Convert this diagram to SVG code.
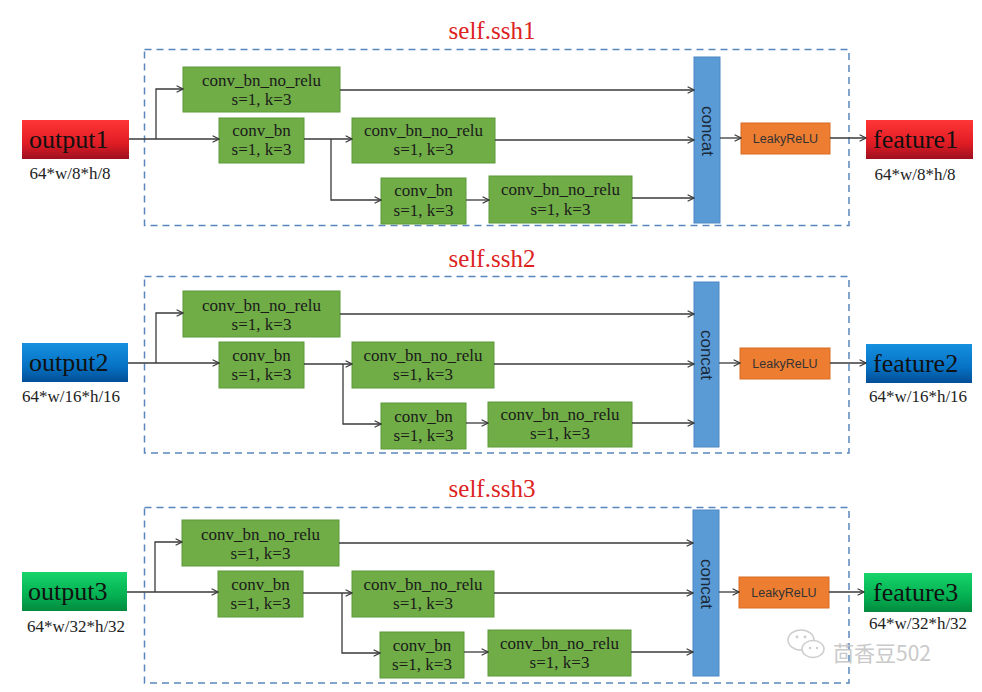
<svg xmlns="http://www.w3.org/2000/svg" width="982" height="692" viewBox="0 0 982 692">
<defs>
<style>
.dash{fill:none;stroke:#5a86bd;stroke-width:1.5;stroke-dasharray:7 5}
.g{fill:#70ad47;stroke:#5d9a3a;stroke-width:1}
.t{font-family:"Liberation Serif",serif;font-size:17px;fill:#1a1a1a;text-anchor:middle}
.title{font-family:"Liberation Serif",serif;font-size:25px;fill:#dd2222;text-anchor:middle}
.io{font-family:"Liberation Serif",serif;font-size:26px;fill:#111}
.dim{font-family:"Liberation Serif",serif;font-size:17px;fill:#222;text-anchor:middle}
.cc{fill:#5b9bd5;stroke:#4a88c5;stroke-width:1}
.ct{font-family:"Liberation Sans",sans-serif;font-size:17px;fill:#1a2a3a;text-anchor:middle;dominant-baseline:central}
.lr{fill:#ed7d31;stroke:#d86c25;stroke-width:1}
.lt{font-family:"Liberation Sans",sans-serif;font-size:12.5px;fill:#333;text-anchor:middle}
.c{fill:none;stroke:#3a3a3a;stroke-width:1.3;marker-end:url(#arr)}
.wm{font-family:"Noto Sans CJK SC","Noto Sans",sans-serif;font-size:21px;fill:#c4c4c4}
</style>
<marker id="arr" viewBox="0 0 10 10" refX="9" refY="5" markerWidth="8" markerHeight="8" orient="auto" markerUnits="userSpaceOnUse">
<path d="M1,1 L9,5 L1,9" fill="none" stroke="#3a3a3a" stroke-width="1.4"/>
</marker>
<linearGradient id="red" x1="0" y1="0" x2="0" y2="1">
<stop offset="0" stop-color="#ff3636"/><stop offset="0.6" stop-color="#e01c24"/><stop offset="1" stop-color="#9e1020"/>
</linearGradient>
<linearGradient id="blue" x1="0" y1="0" x2="0" y2="1">
<stop offset="0" stop-color="#1690e0"/><stop offset="0.6" stop-color="#0672c4"/><stop offset="1" stop-color="#034e96"/>
</linearGradient>
<linearGradient id="green" x1="0" y1="0" x2="0" y2="1">
<stop offset="0" stop-color="#16d46a"/><stop offset="0.6" stop-color="#04b052"/><stop offset="1" stop-color="#038a3e"/>
</linearGradient>
</defs>
<rect width="982" height="692" fill="#ffffff"/>

<!-- Section 1 -->
<g id="ssh1">
<text class="title" x="492" y="39">self.ssh1</text>
<rect class="dash" x="144.5" y="49.5" width="704.5" height="176"/>
</g>
<g id="output1"><rect x="22" y="120" width="107" height="39" fill="url(#red)"/><text class="io" x="29" y="148">output1</text><text class="dim" x="70" y="179">64*w/8*h/8</text></g>
<g id="s1_top"><rect class="g" x="183" y="67" width="157" height="45"/><text class="t" x="261.5" y="86">conv_bn_no_relu</text><text class="t" x="261.5" y="105">s=1, k=3</text></g>
<g id="s1_cb"><rect class="g" x="219" y="118" width="85" height="45"/><text class="t" x="261.5" y="136">conv_bn</text><text class="t" x="261.5" y="155">s=1, k=3</text></g>
<g id="s1_nr2"><rect class="g" x="352" y="118" width="143" height="45"/><text class="t" x="423.5" y="136">conv_bn_no_relu</text><text class="t" x="423.5" y="155">s=1, k=3</text></g>
<g id="s1_cb3"><rect class="g" x="381" y="178" width="85" height="46"/><text class="t" x="423.5" y="196">conv_bn</text><text class="t" x="423.5" y="215.5">s=1, k=3</text></g>
<g id="s1_nr3"><rect class="g" x="489" y="176" width="143" height="47"/><text class="t" x="560.5" y="195">conv_bn_no_relu</text><text class="t" x="560.5" y="214.5">s=1, k=3</text></g>
<g id="s1_concat"><rect class="cc" x="694" y="57" width="26" height="166"/><text class="ct" transform="translate(707,131) rotate(90)">concat</text></g>
<g id="s1_lrelu"><rect class="lr" x="741" y="123" width="89" height="31"/><text class="lt" x="785.5" y="143">LeakyReLU</text></g>
<g id="feature1"><rect x="866" y="120" width="107" height="39" fill="url(#red)"/><text class="io" x="873" y="148">feature1</text><text class="dim" x="915" y="180">64*w/8*h/8</text></g>

<!-- Section 2 -->
<g id="ssh2">
<text class="title" x="492" y="267">self.ssh2</text>
<rect class="dash" x="144.5" y="276.5" width="704.5" height="176.5"/>
</g>
<g id="output2"><rect x="22" y="343" width="106" height="39" fill="url(#blue)"/><text class="io" x="29" y="371">output2</text><text class="dim" x="71" y="402">64*w/16*h/16</text></g>
<g id="s2_top"><rect class="g" x="183" y="291" width="157" height="46"/><text class="t" x="261.5" y="310.5">conv_bn_no_relu</text><text class="t" x="261.5" y="329.5">s=1, k=3</text></g>
<g id="s2_cb"><rect class="g" x="219" y="342" width="85" height="46"/><text class="t" x="261.5" y="360.5">conv_bn</text><text class="t" x="261.5" y="379.5">s=1, k=3</text></g>
<g id="s2_nr2"><rect class="g" x="352" y="342" width="142" height="46"/><text class="t" x="423" y="360.5">conv_bn_no_relu</text><text class="t" x="423" y="379.5">s=1, k=3</text></g>
<g id="s2_cb3"><rect class="g" x="381" y="403" width="85" height="46"/><text class="t" x="423.5" y="421.5">conv_bn</text><text class="t" x="423.5" y="440.5">s=1, k=3</text></g>
<g id="s2_nr3"><rect class="g" x="488" y="402" width="144" height="45"/><text class="t" x="560" y="420">conv_bn_no_relu</text><text class="t" x="560" y="439">s=1, k=3</text></g>
<g id="s2_concat"><rect class="cc" x="694" y="282" width="25" height="165"/><text class="ct" transform="translate(706.5,355) rotate(90)">concat</text></g>
<g id="s2_lrelu"><rect class="lr" x="740" y="348" width="90" height="31"/><text class="lt" x="785" y="368">LeakyReLU</text></g>
<g id="feature2"><rect x="866" y="344" width="106" height="39" fill="url(#blue)"/><text class="io" x="873" y="372">feature2</text><text class="dim" x="918" y="402">64*w/16*h/16</text></g>

<!-- Section 3 -->
<g id="ssh3">
<text class="title" x="492" y="497">self.ssh3</text>
<rect class="dash" x="144.5" y="507.5" width="704.5" height="175.5"/>
</g>
<g id="output3"><rect x="22" y="572" width="105" height="39" fill="url(#green)"/><text class="io" x="28" y="600">output3</text><text class="dim" x="76" y="632">64*w/32*h/32</text></g>
<g id="s3_top"><rect class="g" x="182" y="520" width="157" height="46"/><text class="t" x="260.5" y="539.5">conv_bn_no_relu</text><text class="t" x="260.5" y="558.5">s=1, k=3</text></g>
<g id="s3_cb"><rect class="g" x="218" y="571" width="85" height="46"/><text class="t" x="260.5" y="589.5">conv_bn</text><text class="t" x="260.5" y="608.5">s=1, k=3</text></g>
<g id="s3_nr2"><rect class="g" x="352" y="571" width="142" height="46"/><text class="t" x="423" y="589.5">conv_bn_no_relu</text><text class="t" x="423" y="608.5">s=1, k=3</text></g>
<g id="s3_cb3"><rect class="g" x="380" y="632" width="84" height="46"/><text class="t" x="422" y="650.5">conv_bn</text><text class="t" x="422" y="669.5">s=1, k=3</text></g>
<g id="s3_nr3"><rect class="g" x="488" y="630" width="143" height="46"/><text class="t" x="559.5" y="648.5">conv_bn_no_relu</text><text class="t" x="559.5" y="667.5">s=1, k=3</text></g>
<g id="s3_concat"><rect class="cc" x="693" y="510" width="26" height="166"/><text class="ct" transform="translate(706,584) rotate(90)">concat</text></g>
<g id="s3_lrelu"><rect class="lr" x="739" y="577" width="90" height="31"/><text class="lt" x="784" y="597">LeakyReLU</text></g>
<g id="feature3"><rect x="864" y="573" width="108" height="39" fill="url(#green)"/><text class="io" x="873" y="601">feature3</text><text class="dim" x="918" y="629">64*w/32*h/32</text></g>

<!-- Connectors -->
<g id="connectors">
<path class="c" d="M129,139 H219"/>
<path class="c" d="M156,139 V89 H183"/>
<path class="c" d="M304,139 H352"/>
<path class="c" d="M331,139 V200 H381"/>
<path class="c" d="M466,200 H489"/>
<path class="c" d="M340,90 H694"/>
<path class="c" d="M495,140 H694"/>
<path class="c" d="M632,198 H694"/>
<path class="c" d="M720,138 H741"/>
<path class="c" d="M830,138 H866"/>

<path class="c" d="M128,363 H219"/>
<path class="c" d="M156,363 V313 H183"/>
<path class="c" d="M304,364 H352"/>
<path class="c" d="M343,364 V424 H381"/>
<path class="c" d="M466,423 H488"/>
<path class="c" d="M340,314 H694"/>
<path class="c" d="M494,364 H694"/>
<path class="c" d="M632,423 H694"/>
<path class="c" d="M719,363 H740"/>
<path class="c" d="M830,363 H866"/>

<path class="c" d="M127,592 H218"/>
<path class="c" d="M155,592 V542 H182"/>
<path class="c" d="M303,593 H352"/>
<path class="c" d="M342,593 V653 H380"/>
<path class="c" d="M464,652 H488"/>
<path class="c" d="M339,543 H693"/>
<path class="c" d="M494,593 H693"/>
<path class="c" d="M631,652 H693"/>
<path class="c" d="M719,592 H739"/>
<path class="c" d="M829,592 H864"/>
</g>

<!-- Watermark -->
<g id="watermark" opacity="0.9">
<ellipse cx="801" cy="640" rx="13" ry="10" fill="#ffffff" stroke="#c8c8c8" stroke-width="1.5"/>
<ellipse cx="813" cy="649" rx="11" ry="8.5" fill="#ffffff" stroke="#c8c8c8" stroke-width="1.5"/>
<circle cx="797" cy="637" r="1.4" fill="#c8c8c8"/>
<circle cx="805" cy="637" r="1.4" fill="#c8c8c8"/>
<circle cx="810" cy="648" r="1.2" fill="#c8c8c8"/>
<circle cx="817" cy="648" r="1.2" fill="#c8c8c8"/>
<text class="wm" x="833" y="661">茴香豆502</text>
</g>
</svg>
